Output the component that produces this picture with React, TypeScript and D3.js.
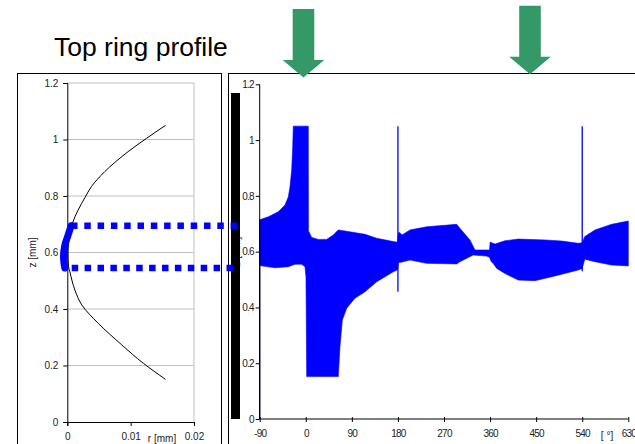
import React, { useRef, useEffect } from "react";
import * as d3 from "d3";

// left chart: ring face profile r(z)
const profileZ = [0.151, 0.208, 0.273, 0.349, 0.414, 0.467, 0.532, 0.55, 0.6, 0.65, 0.703, 0.75, 0.795, 0.833, 0.886, 0.957, 1.004, 1.05];
const profileR = [0.0155, 0.012, 0.0086, 0.0049, 0.0023, 0.0012, 0.0004, 0.0002, 0.0001, 0.0003, 0.0008, 0.0017, 0.0028, 0.0038, 0.0059, 0.0096, 0.0125, 0.0155];

// contact zone (thick blue)
const contactZ = [0.694, 0.66, 0.625, 0.585, 0.545];
const contactR = [0.0006, 0.0001, -0.0004, -0.0006, -0.0004];

// contact limits (dotted lines)
const limitZ = [0.695, 0.545];

// right chart: contact band over crank angle
const topAngle = [-90, -73, -53.7, -40.6, -34, -30.8, -27.5, -25.5, -24.4, 4.9, 5.2, 11.6, 24.5, 40.8, 53.8, 63.5, 76.6, 115.7, 138.5, 171, 179, 181, 184, 188, 203.6, 236, 294.8, 301, 320.7, 330.5, 359, 360, 366, 369.6, 389, 415, 467, 500, 532, 540, 545, 565, 597.5, 630];
const topZ = [0.714, 0.725, 0.743, 0.767, 0.797, 0.833, 0.893, 0.976, 1.05, 1.05, 0.675, 0.651, 0.644, 0.644, 0.66, 0.678, 0.674, 0.662, 0.648, 0.636, 0.634, 0.668, 0.668, 0.66, 0.678, 0.689, 0.698, 0.684, 0.642, 0.606, 0.606, 0.634, 0.63, 0.627, 0.639, 0.645, 0.642, 0.638, 0.63, 0.632, 0.654, 0.678, 0.698, 0.71];
const bottomAngle = [-90, -60, -34, -21, -8, -1.5, 0.4, 1.8, 63.5, 66.8, 71.4, 79.9, 96, 115.7, 138.5, 171, 179.5, 181, 184, 203.6, 236, 294.8, 301, 327, 353, 359, 362, 366, 373, 389, 415, 447.7, 486.8, 532, 540, 545, 565, 597.5, 630];
const bottomZ = [0.55, 0.542, 0.546, 0.555, 0.555, 0.546, 0.51, 0.152, 0.152, 0.259, 0.355, 0.397, 0.433, 0.456, 0.492, 0.528, 0.535, 0.561, 0.561, 0.57, 0.558, 0.556, 0.564, 0.588, 0.584, 0.58, 0.565, 0.558, 0.54, 0.522, 0.498, 0.496, 0.513, 0.534, 0.54, 0.573, 0.564, 0.552, 0.549];

// thin spikes
const spikeAngle = [-90, 180, 540];
const spikeTop = [0.714, 1.05, 1.05];
const spikeBottom = [0, 0.456, 0.53];

const leftYTicks = [0, 0.2, 0.4, 0.6, 0.8, 1, 1.2];
const leftXTicks = [0, 0.01, 0.02];
const rightYTicks = [0, 0.2, 0.4, 0.6, 0.8, 1, 1.2];
const rightXTicks = [-90, 0, 90, 180, 270, 360, 450, 540, 630];

// arrows marking crank angles
const arrowAngle = [-4.5, 438];
const arrowTop = [9, 5.7];

const FONT = "Arial, 'Liberation Sans', sans-serif";
const BLUE = "#0000ff";
const GREEN = "#349966";

function App() {
  const ref = useRef<SVGSVGElement>(null);

  useEffect(() => {
    const svg = d3.select(ref.current);
    svg.selectAll("*").remove();

    svg.append("rect").attr("width", 635).attr("height", 444).attr("fill", "#fff");

    // title
    svg.append("text").text("Top ring profile")
      .attr("x", 54).attr("y", 56)
      .attr("font-family", FONT).attr("font-size", 26.5).attr("fill", "#000");

    // panel frames
    svg.append("rect").attr("x", 17.5).attr("y", 73.5).attr("width", 204).attr("height", 400)
      .attr("fill", "none").attr("stroke", "#000");
    svg.append("rect").attr("x", 228.5).attr("y", 73.5).attr("width", 420).attr("height", 400)
      .attr("fill", "none").attr("stroke", "#000");

    // ---------- left chart ----------
    const lx = d3.scaleLinear().domain([0, 0.02]).range([67.3, 194]);
    const ly = d3.scaleLinear().domain([0, 1.2]).range([422, 83]);

    const lg = svg.append("g");
    lg.selectAll("line.grid").data(leftYTicks.slice(1)).enter().append("line")
      .attr("x1", lx(0)).attr("x2", lx(0.02))
      .attr("y1", (d) => ly(d)).attr("y2", (d) => ly(d))
      .attr("stroke", "#c0c0c0").attr("stroke-width", 1);
    lg.append("line").attr("x1", lx(0.02)).attr("x2", lx(0.02)).attr("y1", ly(1.2)).attr("y2", ly(0))
      .attr("stroke", "#c0c0c0");

    const leftYAxis = lg.append("g").attr("transform", `translate(${lx(0)},0)`)
      .call(d3.axisLeft(ly).tickValues(leftYTicks).tickSize(4).tickFormat((d) => String(d)));
    const leftXAxis = lg.append("g").attr("transform", `translate(0,${ly(0)})`)
      .call(d3.axisBottom(lx).tickValues(leftXTicks).tickSize(4).tickFormat((d) => String(d)));
    [leftYAxis, leftXAxis].forEach((a) => {
      a.select(".domain").attr("stroke", "#000");
      a.selectAll("text").attr("font-family", FONT).attr("font-size", 10).attr("fill", "#222");
    });
    leftYAxis.selectAll("text").attr("x", -9);
    leftXAxis.selectAll("text").attr("y", 11);

    lg.append("text").text("r [mm]").attr("x", 162).attr("y", 442)
      .attr("text-anchor", "middle").attr("font-family", FONT).attr("font-size", 10).attr("fill", "#222");
    lg.append("text").text("z [mm]")
      .attr("transform", `translate(36,${ly(0.6)}) rotate(-90)`)
      .attr("text-anchor", "middle").attr("font-family", FONT).attr("font-size", 10).attr("fill", "#222");

    const profileLine = d3.line<number>()
      .x((d, i) => lx(profileR[i]))
      .y((d) => ly(d))
      .curve(d3.curveMonotoneY);
    lg.append("path").datum(profileZ).attr("d", profileLine)
      .attr("fill", "none").attr("stroke", "#000").attr("stroke-width", 1);

    const contactLine = d3.line<number>()
      .x((d, i) => lx(contactR[i]))
      .y((d) => ly(d))
      .curve(d3.curveCatmullRom);
    lg.append("path").datum(contactZ).attr("d", contactLine)
      .attr("fill", "none").attr("stroke", BLUE).attr("stroke-width", 7).attr("stroke-linecap", "round");

    // ---------- right chart ----------
    const rx = d3.scaleLinear().domain([-90, 630]).range([259.7, 628.3]);
    const ry = d3.scaleLinear().domain([0, 1.2]).range([419, 84.3]);

    const rg = svg.append("g");

    rg.append("text").text("z [mm]")
      .attr("transform", `translate(240,${ry(0.6)}) rotate(-90)`)
      .attr("text-anchor", "middle").attr("font-family", FONT).attr("font-size", 10).attr("fill", "#222");
    rg.append("rect").attr("x", 231).attr("y", 93).attr("width", 9).attr("height", 326).attr("fill", "#000");

    const band: [number, number][] = [
      ...topAngle.map((a, i) => [a, topZ[i]] as [number, number]),
      ...bottomAngle.map((a, i) => [a, bottomZ[i]] as [number, number]).reverse(),
    ];
    const bandLine = d3.line<[number, number]>().x((d) => rx(d[0])).y((d) => ry(d[1]));
    rg.append("path").attr("d", bandLine(band) + "Z").attr("fill", BLUE).attr("stroke", BLUE).attr("stroke-width", 0.6);

    rg.selectAll("line.spike").data(spikeAngle).enter().append("line")
      .attr("x1", (d) => rx(d)).attr("x2", (d) => rx(d))
      .attr("y1", (d, i) => ry(spikeTop[i])).attr("y2", (d, i) => ry(spikeBottom[i]))
      .attr("stroke", (d, i) => (i === 0 ? "#000080" : BLUE)).attr("stroke-width", 1.3);

    const rightYAxis = rg.append("g").attr("transform", `translate(${rx(-90)},0)`)
      .call(d3.axisLeft(ry).tickValues(rightYTicks).tickSize(4).tickFormat((d) => String(d)));
    const rightXAxis = rg.append("g").attr("transform", `translate(0,${ry(0)})`)
      .call(d3.axisBottom(rx).tickValues(rightXTicks).tickSize(3).tickFormat((d) => String(d)));
    [rightYAxis, rightXAxis].forEach((a) => {
      a.select(".domain").attr("stroke", "#000");
      a.selectAll("text").attr("font-family", FONT).attr("font-size", 10).attr("fill", "#222")
        .attr("letter-spacing", -0.8);
    });
    rightYAxis.select(".domain").attr("d", `M0,${ry(1.2)}V${ry(0)}`);
    rightXAxis.select(".domain").attr("d", `M${rx(-90)},0H${rx(630)}`);
    rightXAxis.selectAll(".tick line").attr("y1", -2);
    rightYAxis.selectAll("text").attr("x", -6);
    rightXAxis.selectAll("text").attr("y", 11);
    rg.append("text").text("[ °]").attr("x", 607).attr("y", 439)
      .attr("text-anchor", "middle").attr("font-family", FONT).attr("font-size", 10).attr("fill", "#222");

    // dotted contact limits across both panels
    svg.selectAll("line.limit").data(limitZ).enter().append("line")
      .attr("x1", (d, i) => (i === 0 ? 71 : 71.7)).attr("x2", (d, i) => (i === 0 ? 237 : 234))
      .attr("y1", (d) => ly(d)).attr("y2", (d) => ly(d))
      .attr("stroke", BLUE).attr("stroke-width", 6.5)
      .attr("stroke-dasharray", (d, i) => (i === 0 ? "6.5,6.8" : "6.5,6.4"));

    // arrows
    const arrow = (cx: number, top: number) => {
      const sw = 10.8, hw = 20.8, shaftH = 51, headH = 17.5;
      return `M${cx - sw},${top}H${cx + sw}V${top + shaftH}H${cx + hw}L${cx},${top + shaftH + headH}L${cx - hw},${top + shaftH}H${cx - sw}Z`;
    };
    svg.selectAll("path.arrow").data(arrowAngle).enter().append("path")
      .attr("d", (d, i) => arrow(rx(d), arrowTop[i]))
      .attr("fill", GREEN);
  }, []);

  return (
    <div style={{ position: "fixed", left: 0, top: 0 }}>
      <svg ref={ref} width={635} height={444} style={{ display: "block" }} />
    </div>
  );
}

export default App;
